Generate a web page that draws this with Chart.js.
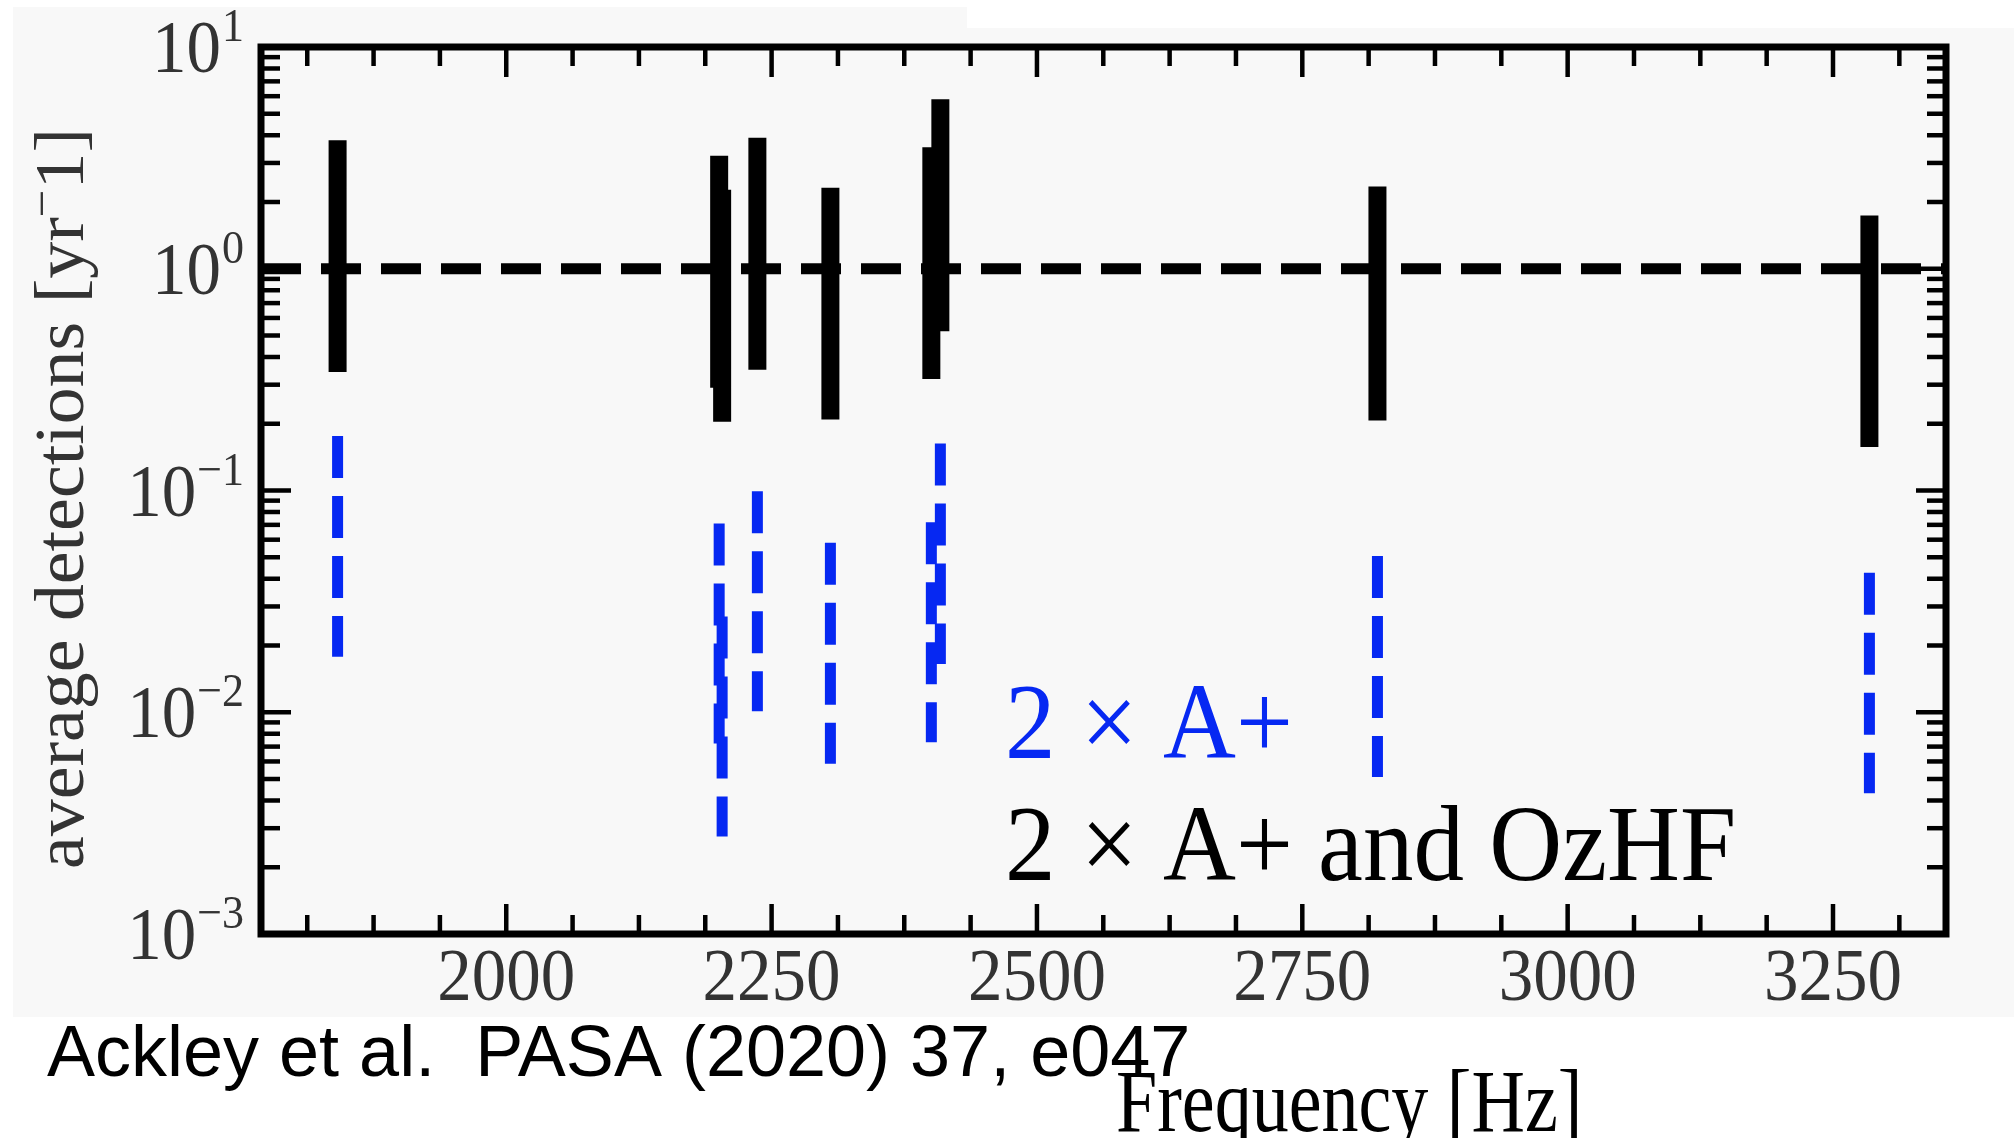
<!DOCTYPE html>
<html lang="en">
<head>
  <meta charset="UTF-8">
  <title>Average detections vs frequency</title>
  <style>
    * { margin: 0; padding: 0; box-sizing: border-box; }
    body { background: #fff; width: 2014px; height: 1138px; overflow: hidden; }
    canvas { display: block; }
  </style>
</head>
<body>
  <canvas id="rates" width="2014" height="1138"></canvas>

  <script src="https://cdn.jsdelivr.net/npm/chart.js"></script>
  <script>
    // Source frequencies [Hz]
    const freqs = [1841.1, 2200.6, 2203.4, 2236.6, 2305.4, 2400.5, 2409.0, 2820.8, 3284.3];
    // 2 x A+ and OzHF: detection-rate range [yr^-1]
    const combLow  = [0.342, 0.291, 0.204, 0.350, 0.209, 0.318, 0.523, 0.207, 0.157];
    const combHigh = [3.80, 3.23, 2.27, 3.90, 2.32, 3.53, 5.81, 2.35, 1.74];
    // 2 x A+ only
    const aplusLow  = [0.0178, 0.00722, 0.00275, 0.0101, 0.00586, 0.00733, 0.0165, 0.00511, 0.00431];
    const aplusHigh = [0.176, 0.0709, 0.0270, 0.0991, 0.0582, 0.0720, 0.163, 0.0506, 0.0426];
    // reference rate of one per year
    const refRate = 1;

    const xTicks = [2000, 2250, 2500, 2750, 3000, 3250];
    const xMinorStep = 62.5;
    const yDecades = [-3, -2, -1, 0, 1];

    // x limits with 5% margins around the data
    const fMin = Math.min(...freqs), fMax = Math.max(...freqs);
    const xMin = fMin - 0.05 * (fMax - fMin);
    const xMax = fMax + 0.05 * (fMax - fMin);

    const BLUE = '#0628f2';
    const SERIF = '"Liberation Serif", "Times New Roman", serif';
    const STRETCH = 1.07;

    // one vertical segment per source, separated by gaps
    function rangePoints(low, high) {
      const pts = [];
      freqs.forEach((f, i) => {
        pts.push({ x: f, y: high[i] }, { x: f, y: low[i] }, { x: f, y: null });
      });
      return pts;
    }

    function stretchedText(ctx, str, x, y, font, color, align, sx, sy) {
      ctx.save();
      ctx.font = font;
      ctx.fillStyle = color;
      ctx.textAlign = align;
      ctx.textBaseline = 'alphabetic';
      ctx.translate(x, y);
      ctx.scale(sx, sy);
      ctx.fillText(str, 0, 0);
      ctx.restore();
    }

    const figurePlugin = {
      id: 'figure',
      beforeDraw(chart) {
        const ctx = chart.ctx;
        ctx.save();
        ctx.fillStyle = '#ffffff';
        ctx.fillRect(0, 0, chart.width, chart.height);
        // light grey backdrop of the figure panel
        ctx.fillStyle = '#f8f8f8';
        ctx.beginPath();
        ctx.moveTo(13, 7);
        ctx.lineTo(967, 7);
        ctx.lineTo(967, 28);
        ctx.lineTo(chart.width, 28);
        ctx.lineTo(chart.width, 1017);
        ctx.lineTo(13, 1017);
        ctx.closePath();
        ctx.fill();
        ctx.restore();
      },
      afterDraw(chart) {
        const ctx = chart.ctx;
        const { left, right, top, bottom } = chart.chartArea;
        const xs = chart.scales.x, ys = chart.scales.y;

        ctx.save();
        // frame
        ctx.strokeStyle = '#000';
        ctx.lineWidth = 7;
        ctx.strokeRect(left, top, right - left, bottom - top);

        // inward ticks on all four sides
        ctx.lineWidth = 4.5;
        ctx.lineCap = 'butt';
        const tick = (x1, y1, x2, y2) => {
          ctx.beginPath(); ctx.moveTo(x1, y1); ctx.lineTo(x2, y2); ctx.stroke();
        };
        const majorLen = 30, minorLen = 19;

        for (let k = -8; k <= 30; k++) {
          const v = xTicks[0] + k * xMinorStep;
          if (v <= xMin || v >= xMax) continue;
          const len = (k % 4 === 0) ? majorLen : minorLen;
          const px = xs.getPixelForValue(v);
          tick(px, bottom, px, bottom - len);
          tick(px, top, px, top + len);
        }
        yDecades.forEach(d => {
          for (let m = 1; m <= 9; m++) {
            const v = m * Math.pow(10, d);
            if (v > ys.max * 1.0001) continue;
            const py = ys.getPixelForValue(v);
            const len = m === 1 ? majorLen : minorLen;
            tick(left, py, left + len, py);
            tick(right, py, right - len, py);
          }
        });

        // x tick labels
        xTicks.forEach(v => {
          stretchedText(ctx, String(v), xs.getPixelForValue(v), 1000,
            '69px ' + SERIF, '#333', 'center', 1, STRETCH);
        });

        // y tick labels as 10^n
        yDecades.forEach(d => {
          const py = ys.getPixelForValue(Math.pow(10, d));
          const exp = d < 0 ? '\u2212' + Math.abs(d) : String(d);
          ctx.font = '44px ' + SERIF;
          const ew = ctx.measureText(exp).width;
          stretchedText(ctx, exp, 244, py - 6, '44px ' + SERIF, '#333', 'right', 1, STRETCH);
          stretchedText(ctx, '10', 244 - ew - 1, py + 25, '69px ' + SERIF, '#333', 'right', 1, STRETCH);
        });

        // y axis title
        const t1 = 'average detections [yr', tSup = '\u2212', t2 = '1]';
        ctx.font = '69px ' + SERIF;
        const w1 = ctx.measureText(t1).width, w2 = ctx.measureText(t2).width;
        ctx.font = '46px ' + SERIF;
        const ws = ctx.measureText(tSup).width;
        const total = w1 + ws + w2;
        ctx.save();
        ctx.translate(83, (top + bottom) / 2 + 8);
        ctx.rotate(-Math.PI / 2);
        ctx.scale(STRETCH, 1);
        ctx.fillStyle = '#333';
        ctx.textBaseline = 'alphabetic';
        ctx.textAlign = 'left';
        ctx.font = '69px ' + SERIF;
        ctx.fillText(t1, -total / 2, 0);
        ctx.font = '46px ' + SERIF;
        ctx.fillText(tSup, -total / 2 + w1, -26);
        ctx.font = '69px ' + SERIF;
        ctx.fillText(t2, -total / 2 + w1 + ws, 0);
        ctx.restore();

        // legend
        stretchedText(ctx, '2 \u00d7 A+', 1005, 758, '101px ' + SERIF, BLUE, 'left', 1, STRETCH);
        stretchedText(ctx, '2 \u00d7 A+ and OzHF', 1005, 880, '101px ' + SERIF, '#000', 'left', 1, STRETCH);

        // citation and x axis title
        stretchedText(ctx, 'Ackley et al.  PASA (2020) 37, e047', 47, 1076,
          '72px "Liberation Sans", Arial, sans-serif', '#000', 'left', 1, 1);
        stretchedText(ctx, 'Frequency [Hz]', 1116, 1131, '74px ' + SERIF, '#000', 'left', 1, 1.2);
        ctx.restore();
      }
    };

    new Chart(document.getElementById('rates'), {
      type: 'line',
      data: {
        datasets: [
          {
            label: '2 \u00d7 A+',
            data: rangePoints(aplusLow, aplusHigh),
            borderColor: BLUE,
            borderWidth: 11,
            borderDash: [42, 18],
            spanGaps: false
          },
          {
            label: '2 \u00d7 A+ and OzHF',
            data: rangePoints(combLow, combHigh),
            borderColor: '#000',
            borderWidth: 18,
            spanGaps: false
          },
          {
            label: 'one per year',
            data: [{ x: xMin, y: refRate }, { x: xMax, y: refRate }],
            borderColor: '#000',
            borderWidth: 11,
            borderDash: [40, 20]
          }
        ]
      },
      options: {
        responsive: false,
        animation: false,
        devicePixelRatio: 1,
        layout: { padding: { left: 261, top: 47, right: 68, bottom: 204 } },
        plugins: { legend: { display: false }, tooltip: { enabled: false } },
        elements: {
          point: { radius: 0 },
          line: { tension: 0, borderCapStyle: 'butt', fill: false }
        },
        scales: {
          x: { type: 'linear', min: xMin, max: xMax, display: false },
          y: { type: 'logarithmic', min: 1e-3, max: 10, display: false }
        }
      },
      plugins: [figurePlugin]
    });
  </script>
</body>
</html>
